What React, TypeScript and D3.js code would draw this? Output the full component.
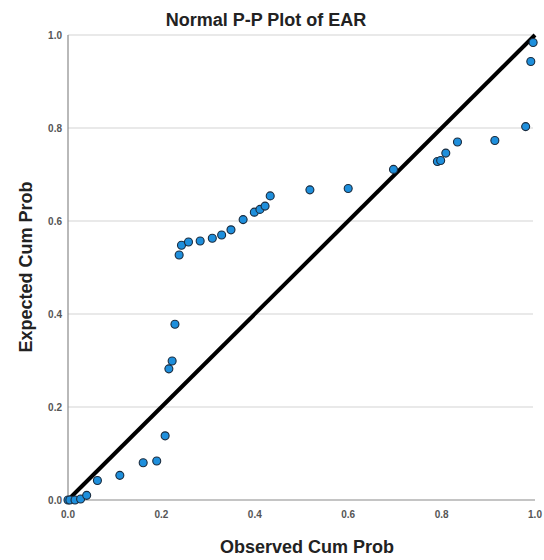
import React from 'react';
import * as d3 from 'd3';

// observed / expected cumulative probabilities
const observed = [0.0, 0.004, 0.015, 0.027, 0.04, 0.063, 0.111, 0.161, 0.19, 0.208,
  0.216, 0.223, 0.229, 0.238, 0.243, 0.258, 0.283, 0.309, 0.329, 0.349,
  0.375, 0.399, 0.411, 0.422, 0.433, 0.518, 0.6, 0.697, 0.791, 0.798,
  0.809, 0.834, 0.914, 0.98, 0.991, 0.996];
const expected = [0.0, 0.0, 0.0, 0.002, 0.01, 0.042, 0.053, 0.08, 0.084, 0.138,
  0.282, 0.299, 0.378, 0.527, 0.548, 0.555, 0.557, 0.563, 0.57, 0.581,
  0.603, 0.619, 0.625, 0.632, 0.654, 0.667, 0.67, 0.711, 0.728, 0.73,
  0.746, 0.77, 0.773, 0.803, 0.943, 0.984];
const xTicks = [0, 0.2, 0.4, 0.6, 0.8, 1.0];
const yTicks = [0, 0.2, 0.4, 0.6, 0.8, 1.0];

const title = 'Normal P-P Plot of EAR';
const xTitle = 'Observed Cum Prob';
const yTitle = 'Expected Cum Prob';

export default function App() {
  const width = 544;
  const height = 560;
  const left = 68, right = 535, top = 35, bottom = 500;

  const x = d3.scaleLinear().domain([0, 1]).range([left, right]);
  const y = d3.scaleLinear().domain([0, 1]).range([bottom, top]);

  const points = observed.map((o, i) => ({ o, e: expected[i] }));
  const font = 'Arial, "Liberation Sans", sans-serif';

  return (
    <svg width={width} height={height}
      style={{ position: 'absolute', left: 0, top: 0, background: '#fff' }}>
      {/* grid */}
      {yTicks.filter(t => t > 0).map(t => (
        <line key={'g' + t} x1={left} x2={right - 2} y1={y(t)} y2={y(t)}
          stroke="#d4d4d4" strokeWidth={1.2} />
      ))}
      {/* axes */}
      <line x1={left} x2={left} y1={top} y2={bottom} stroke="#8a8a8a" strokeWidth={1.2} />
      <line x1={left} x2={right} y1={bottom} y2={bottom} stroke="#8a8a8a" strokeWidth={1.2} />

      {yTicks.map(t => (
        <text key={'y' + t} x={left - 6} y={y(t) + 4} textAnchor="end"
          fontFamily={font} fontSize={10} fontWeight="bold" fill="#555">
          {d3.format('.1f')(t)}
        </text>
      ))}
      {xTicks.map(t => (
        <text key={'x' + t} x={x(t)} y={bottom + 18} textAnchor="middle"
          fontFamily={font} fontSize={10} fontWeight="bold" fill="#555">
          {d3.format('.1f')(t)}
        </text>
      ))}

      {/* reference diagonal */}
      <line x1={x(0)} y1={y(0)} x2={x(1)} y2={y(1)} stroke="#000" strokeWidth={4} />

      {points.map((p, i) => (
        <circle key={i} cx={x(p.o)} cy={y(p.e)} r={4}
          fill="#1e8fdc" stroke="#1b2b3d" strokeWidth={1.1} />
      ))}

      <text x={266} y={26} textAnchor="middle" fontFamily={font} fontSize={18}
        fontWeight="bold" fill="#222">{title}</text>
      <text x={307} y={553} textAnchor="middle" fontFamily={font} fontSize={18}
        fontWeight="bold" fill="#222">{xTitle}</text>
      <text transform={`translate(32,${267}) rotate(-90)`} textAnchor="middle"
        fontFamily={font} fontSize={18} fontWeight="bold" fill="#222">{yTitle}</text>
    </svg>
  );
}
